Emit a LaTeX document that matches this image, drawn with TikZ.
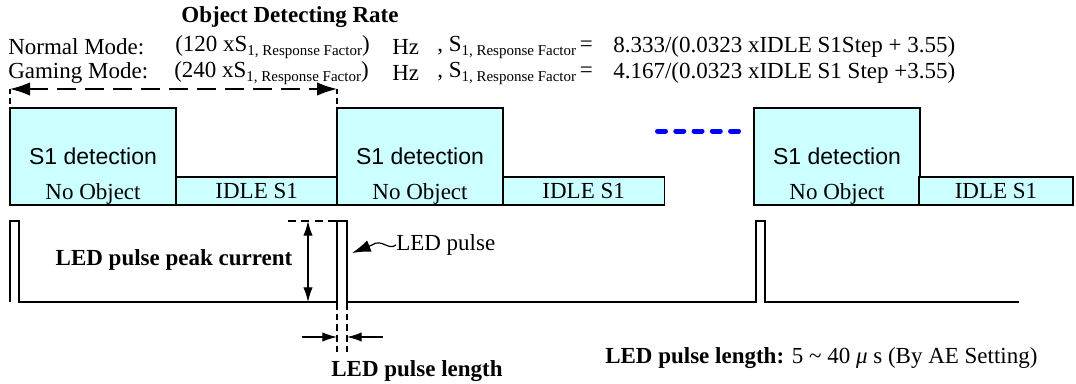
\documentclass[tikz,border=0pt]{standalone}
\usepackage{fontspec}
\setmainfont{Liberation Serif}
\setsansfont{Liberation Sans}
\usepackage{xcolor}
\usepackage{tikz}
\usetikzlibrary{arrows.meta}
\usetikzlibrary{calc}
\usetikzlibrary{positioning}

\definecolor{boxcyan}{RGB}{204,255,255}
\newcommand{\rfsub}{\raisebox{-3pt}{\fontsize{11.25}{12}\selectfont 1, Response Factor}}

\begin{document}
\begin{tikzpicture}[x=0.75pt,y=-0.75pt,font=\fontsize{17.25}{20}\selectfont,
	det_box/.style={draw,fill=boxcyan,line width=1pt,inner sep=0pt,outer sep=0pt,minimum width=124.5pt,minimum height=72.75pt,anchor=south west,font=\sffamily\fontsize{17.25}{20}\selectfont},
	idle_box/.style={draw,fill=boxcyan,line width=1pt,inner sep=0pt,outer sep=0pt,minimum width=121pt,minimum height=21pt,anchor=south west},
	obj_txt/.style={inner sep=0pt,anchor=base},
	txt/.style={inner sep=0pt,anchor=west},
	wave/.style={line width=1.2pt},
	dim_arrow/.style={line width=0.9pt,{Latex[length=11pt,width=7pt]}-{Latex[length=11pt,width=7pt]}},
	guide/.style={line width=0.9pt,dash pattern=on 6pt off 4pt}]

	\useasboundingbox (0,0) rectangle (1076,383);

	% header
	\node[inner sep=0pt,font=\bfseries\fontsize{17.25}{20}\selectfont] (title) at (290,17) {Object Detecting Rate};
	\node[txt] (normal) at (8,47) {Normal Mode:};
	\node[txt] (normal_rate) at (175,47) {(120 xS\rfsub)};
	\node[txt] (normal_hz) at (392,47) {Hz};
	\node[txt] (normal_s) at (437,47) {, S\rfsub\,=};
	\node[txt] (normal_eq) at (613,47) {8.333/(0.0323 xIDLE S1Step + 3.55)};
	\node[txt] (gaming) at (8,73) {Gaming Mode:};
	\node[txt] (gaming_rate) at (174,73) {(240 xS\rfsub)};
	\node[txt] (gaming_hz) at (392,73) {Hz};
	\node[txt] (gaming_s) at (437,73) {, S\rfsub\,=};
	\node[txt] (gaming_eq) at (613,73) {4.167/(0.0323 xIDLE S1 Step +3.55)};

	% period
	\coordinate (per_l) at (10,89);
	\coordinate (per_r) at (337,89);
	\draw[line width=0.9pt,dash pattern=on 14pt off 7pt,{Latex[length=15pt,width=10pt]}-{Latex[length=15pt,width=10pt]}] (per_l) -- (per_r);
	\draw[line width=0.9pt,dash pattern=on 4pt off 3pt] (per_l) -- (10,108);
	\draw[line width=0.9pt,dash pattern=on 4pt off 3pt] (per_r) -- (337,108);

	% detection / idle boxes
	\node[det_box] (det1) at (10,205) {S1 detection};
	\node[idle_box] (idle1) at (176,205) {IDLE S1};
	\node[det_box] (det2) at (337,205) {S1 detection};
	\node[idle_box] (idle2) at (503,205) {IDLE S1};
	\node[det_box] (det3) at (754,205) {S1 detection};
	\node[idle_box,minimum width=115.5pt] (idle3) at (919,205) {IDLE S1};
	\node[obj_txt] (obj1) at ($(det1.south)+(0,-6)$) {No Object};
	\node[obj_txt] (obj2) at ($(det2.south)+(0,-6)$) {No Object};
	\node[obj_txt] (obj3) at ($(det3.south)+(0,-6)$) {No Object};

	\coordinate (dots_l) at (657.5,131);
	\coordinate (dots_r) at (740,131);
	\draw[blue,line width=3.75pt,line cap=round,dash pattern=on 6pt off 7.7pt] (dots_l) -- (dots_r);

	% LED pulses
	\coordinate (p1) at (10,221);
	\coordinate (p2_l) at (337,221);
	\coordinate (p2_r) at (347,221);
	\coordinate (p3) at (756,221);
	\coordinate (base_end) at (1019,302);
	\draw[wave] (10,302) -- (p1) -- (19,221) -- (19,302) -- (337,302) -- (p2_l) -- (p2_r)
		-- (347,302) -- (756,302) -- (p3) -- (765,221) -- (765,302) -- (base_end);

	% peak current
	\coordinate (peak_top) at (308,221);
	\coordinate (peak_bot) at (308,302);
	\draw[guide] (288,221) -- (p2_l);
	\draw[dim_arrow] (peak_top) -- (peak_bot);
	\node[inner sep=0pt,font=\bfseries\fontsize{17.25}{20}\selectfont] (peak_lbl) at (174,260) {LED pulse peak current};

	% pulse label
	\node[txt] (pulse_lbl) at (396,245) {LED pulse};
	\coordinate (pulse_tip) at (352,253);
	\coordinate (tilde_end) at (372,245);
	\draw[line width=0.9pt] (pulse_lbl.west) .. controls (388,251) and (382,238) .. (tilde_end);
	\draw[line width=0.9pt,-{Latex[length=14pt,width=9pt]}] (tilde_end) -- (pulse_tip);

	% pulse length
	\coordinate (len_l) at (337,352);
	\coordinate (len_r) at (347,352);
	\draw[guide,dash pattern=on 5pt off 3pt] (337,303) -- (len_l);
	\draw[guide,dash pattern=on 5pt off 3pt] (347,303) -- (len_r);
	\coordinate (len_al) at (302,337);
	\coordinate (len_ar) at (383,337);
	\draw[line width=0.9pt,-{Latex[length=11pt,width=7pt]}] (len_al) -- (337,337);
	\draw[line width=0.9pt,-{Latex[length=11pt,width=7pt]}] (len_ar) -- (347,337);
	\node[inner sep=0pt,font=\bfseries\fontsize{17.25}{20}\selectfont] (len_lbl) at (417,371) {LED pulse length};

	\node[txt] (len_note) at (605,358) {\textbf{LED pulse length:} 5 \textasciitilde{} 40 \textit{μ} s (By AE Setting)};
\end{tikzpicture}
\end{document}
